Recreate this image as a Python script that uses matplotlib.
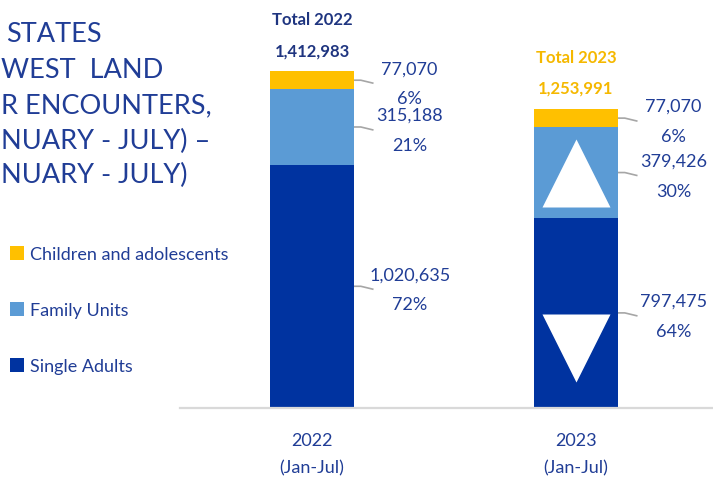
import matplotlib.pyplot as plt
import numpy as np

plt.rcParams['font.family'] = ['Lato', 'DejaVu Sans']

# data
periods = ["2022\n(Jan-Jul)", "2023\n(Jan-Jul)"]
groups = ["Single Adults", "Family Units", "Children and adolescents"]
single_adults = [1020635, 797475]
family_units = [315188, 379426]
children = [77070, 77070]
pct_single = ["72%", "64%"]
pct_family = ["21%", "30%"]
pct_children = ["6%", "6%"]
totals = [1412983, 1253991]
total_titles = ["Total 2022", "Total 2023"]
# title is cropped at the left edge in the source picture
title_lines = ["STATES", "WEST  LAND", "R ENCOUNTERS,",
               "NUARY - JULY) \u2013", "NUARY - JULY)"]

TEXT = "#203D96"
DARK = "#0033A0"
LIGHT = "#5B9BD5"
YELLOW = "#FFC000"
TOTAL_COLORS = ["#1F3580", "#F5B800"]

W, H, DPI = 713, 481, 100
fig = plt.figure(figsize=(W / DPI, H / DPI), dpi=DPI)
ax = fig.add_axes([180 / W, 72 / H, 533 / W, 409 / H])

x = np.arange(len(periods))
width = 0.32
bottoms = np.zeros(len(x))
series = [(single_adults, DARK, pct_single),
          (family_units, LIGHT, pct_family),
          (children, YELLOW, pct_children)]
handles = []
for (vals, col, pcts), name in zip(series, groups):
    vals = np.array(vals, dtype=float)
    b = ax.bar(x, vals, width, bottom=bottoms, color=col, label=name, zorder=2)
    handles.append(b)
    mids = bottoms + vals / 2
    for i in x:
        xe = i + width / 2
        ax.plot([xe, xe + 0.025, xe + 0.07], [mids[i], mids[i], mids[i] - 12000],
                color="#A6A6A6", lw=1.2, zorder=1)
        ax.annotate(f"{int(vals[i]):,}", (i + 0.37, mids[i]), xytext=(0, 12),
                    textcoords="offset pixels", ha="center", va="center",
                    fontsize=13, color=TEXT)
        ax.annotate(pcts[i], (i + 0.37, mids[i]), xytext=(0, -18),
                    textcoords="offset pixels", ha="center", va="center",
                    fontsize=13, color=TEXT)
    bottoms = bottoms + vals

# totals above bars
for i in x:
    ax.annotate(total_titles[i], (i, bottoms[i]), xytext=(0, 52),
                textcoords="offset pixels", ha="center", va="center",
                fontsize=12, fontweight="bold", color=TOTAL_COLORS[i])
    ax.annotate(f"{totals[i]:,}", (i, bottoms[i]), xytext=(0, 21),
                textcoords="offset pixels", ha="center", va="center",
                fontsize=12, fontweight="bold", color=TOTAL_COLORS[i])

# change arrows in 2023 bar
ax.plot(1, single_adults[1] + family_units[1] / 2, marker="^", ms=49,
        color="white", mec="none", zorder=3)
ax.plot(1, single_adults[1] * 0.315, marker="v", ms=49,
        color="white", mec="none", zorder=3)

ax.set_xlim(-0.5, 1.519)
ax.set_ylim(0, 409 / 337 * totals[0])
ax.set_xticks(x)
ax.set_xticklabels(periods, fontsize=13, color=TEXT, linespacing=1.9)
ax.tick_params(axis="x", length=0, pad=17)
ax.set_yticks([])
for s in ["top", "right", "left"]:
    ax.spines[s].set_visible(False)
ax.spines["bottom"].set_color("#D9D9D9")
ax.spines["bottom"].set_linewidth(1.6)
ax.patch.set_alpha(0)

# title fragments
starts = [6, 1, 1, 1, 1]
ys = [35, 70, 106, 141, 175]
for line, xl, yy in zip(title_lines, starts, ys):
    fig.text(xl / W, 1 - yy / H, line, ha="left", va="center",
             fontsize=19.5, color=TEXT)

leg = fig.legend(handles[::-1], groups[::-1], loc="upper left",
                 bbox_to_anchor=(10 / W, 1 - 247 / H), frameon=False,
                 fontsize=13, labelcolor=TEXT, handlelength=0.8,
                 handleheight=0.8, handletextpad=0.3, labelspacing=2.2,
                 borderpad=0, borderaxespad=0)

fig.savefig("out.png", dpi=DPI, facecolor="white")
